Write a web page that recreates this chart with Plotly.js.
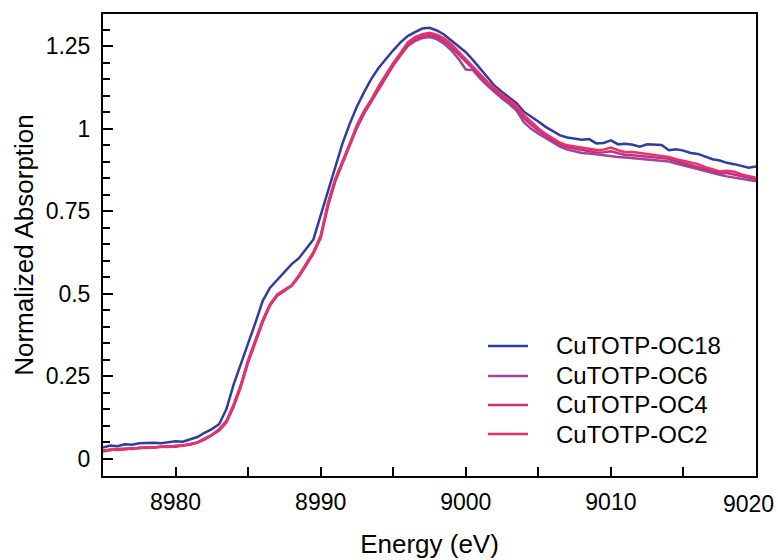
<!DOCTYPE html>
<html>
<head>
<meta charset="utf-8">
<script src="https://cdn.plot.ly/plotly-3.0.1.min.js"></script>
<style>html,body{margin:0;padding:0;background:#fff;}#chart{width:778px;height:560px;}</style>
</head>
<body>
<div id="chart"></div>
<script>
const energy = [
8975.0,8975.5,8976.0,8976.5,8977.0,8977.5,8978.0,8978.5,8979.0,8979.5,
8980.0,8980.5,8981.0,8981.5,8982.0,8982.5,8983.0,8983.5,8984.0,8984.5,
8985.0,8985.5,8986.0,8986.5,8987.0,8987.5,8988.0,8988.5,8989.0,8989.5,
8990.0,8990.5,8991.0,8991.5,8992.0,8992.5,8993.0,8993.5,8994.0,8994.5,
8995.0,8995.5,8996.0,8996.5,8997.0,8997.5,8998.0,8998.5,8999.0,8999.5,
9000.0,9000.5,9001.0,9001.5,9002.0,9002.5,9003.0,9003.5,9004.0,9004.5,
9005.0,9005.5,9006.0,9006.5,9007.0,9007.5,9008.0,9008.5,9009.0,9009.5,
9010.0,9010.5,9011.0,9011.5,9012.0,9012.5,9013.0,9013.5,9014.0,9014.5,
9015.0,9015.5,9016.0,9016.5,9017.0,9017.5,9018.0,9018.5,9019.0,9019.5,
9020.0];

const oc18 = [
0.034,0.040,0.038,0.044,0.043,0.047,0.048,0.049,0.047,0.050,
0.053,0.052,0.058,0.066,0.079,0.090,0.105,0.150,0.225,0.285,
0.350,0.412,0.478,0.518,0.542,0.566,0.590,0.608,0.637,0.665,
0.738,0.812,0.885,0.955,1.015,1.068,1.112,1.152,1.185,1.212,
1.238,1.262,1.281,1.293,1.304,1.306,1.298,1.286,1.268,1.250,
1.232,1.208,1.183,1.157,1.130,1.112,1.096,1.078,1.052,1.038,
1.022,1.006,0.993,0.980,0.974,0.970,0.967,0.969,0.956,0.957,
0.965,0.953,0.955,0.952,0.946,0.953,0.951,0.951,0.935,0.938,
0.934,0.927,0.924,0.917,0.908,0.904,0.897,0.893,0.888,0.882,
0.886];

const oc6 = [
0.022,0.027,0.029,0.031,0.030,0.034,0.033,0.035,0.036,0.038,
0.037,0.041,0.045,0.049,0.058,0.071,0.086,0.110,0.158,0.218,
0.292,0.352,0.414,0.464,0.494,0.509,0.524,0.552,0.585,0.622,
0.670,0.765,0.840,0.893,0.948,1.003,1.047,1.083,1.122,1.158,
1.192,1.222,1.250,1.266,1.275,1.278,1.272,1.258,1.238,1.212,
1.180,1.178,1.152,1.130,1.110,1.092,1.075,1.055,1.020,1.000,
0.985,0.972,0.958,0.946,0.937,0.932,0.927,0.925,0.922,0.920,
0.917,0.915,0.913,0.911,0.909,0.907,0.906,0.903,0.901,0.895,
0.889,0.885,0.879,0.872,0.866,0.861,0.856,0.852,0.849,0.846,
0.841];

const oc4 = [
0.024,0.026,0.030,0.029,0.032,0.032,0.035,0.034,0.037,0.036,
0.040,0.041,0.043,0.050,0.060,0.072,0.088,0.112,0.162,0.222,
0.296,0.355,0.417,0.466,0.496,0.511,0.525,0.554,0.588,0.625,
0.673,0.770,0.844,0.897,0.952,1.008,1.051,1.087,1.126,1.162,
1.196,1.226,1.256,1.272,1.281,1.284,1.279,1.266,1.248,1.226,
1.204,1.182,1.158,1.136,1.116,1.098,1.082,1.063,1.032,1.012,
0.994,0.979,0.966,0.952,0.944,0.940,0.935,0.932,0.928,0.929,
0.932,0.926,0.921,0.920,0.918,0.916,0.914,0.912,0.909,0.902,
0.896,0.891,0.886,0.878,0.872,0.866,0.866,0.862,0.857,0.852,
0.847];

const oc2 = [
0.025,0.028,0.027,0.030,0.031,0.033,0.034,0.036,0.035,0.037,
0.039,0.040,0.044,0.050,0.061,0.073,0.090,0.115,0.165,0.225,
0.300,0.358,0.420,0.468,0.498,0.512,0.526,0.556,0.590,0.627,
0.676,0.775,0.848,0.900,0.955,1.012,1.055,1.090,1.130,1.165,
1.200,1.230,1.262,1.278,1.287,1.291,1.285,1.274,1.257,1.234,
1.212,1.190,1.165,1.142,1.122,1.104,1.088,1.070,1.042,1.020,
1.001,0.985,0.972,0.958,0.950,0.946,0.942,0.940,0.936,0.937,
0.943,0.935,0.929,0.930,0.927,0.925,0.922,0.920,0.915,0.908,
0.902,0.898,0.893,0.884,0.878,0.871,0.873,0.870,0.862,0.856,
0.852];

const xTickVals = [8980, 8990, 9000, 9010, 9020];
const xTickText = ["8980", "8990", "9000", "9010", "9020"];

const seriesNames = ["CuTOTP-OC18","CuTOTP-OC6","CuTOTP-OC4","CuTOTP-OC2"];
const seriesValues = [oc18, oc6, oc4, oc2];
const seriesColors = ["#2f3d9c","#a0449c","#c4307c","#e8336a"];

const font = "Arial, 'Liberation Sans', sans-serif";

const traces = seriesNames.map((n, i) => ({
  x: energy, y: seriesValues[i], name: n, type: "scatter", mode: "lines",
  line: {color: seriesColors[i], width: 2.5}, showlegend: false
}));

// legend drawn as shapes + annotations (paper coordinates)
const legX0 = 0.5896, legX1 = 0.6508, legTextX = 0.690;
const legRowY = [0.2814, 0.2165, 0.1537, 0.0909];
const shapes = seriesNames.map((n, i) => ({
  type: "line", xref: "paper", yref: "paper",
  x0: legX0, x1: legX1, y0: legRowY[i], y1: legRowY[i],
  line: {color: seriesColors[i], width: 2.5}
}));
const annotations = seriesNames.map((n, i) => ({
  text: n, xref: "paper", yref: "paper", x: legTextX, y: legRowY[i],
  xanchor: "left", yanchor: "middle", showarrow: false,
  font: {family: font, size: 24, color: "#000"}
}));
// last x tick label sits at the plot edge; draw it shifted inward like the original
const lastIdx = xTickVals.length - 1;
annotations.push({
  text: xTickText[lastIdx], xref: "x", yref: "paper", x: xTickVals[lastIdx], y: 0,
  xanchor: "center", yanchor: "top", xshift: -8, yshift: -13, showarrow: false,
  font: {family: font, size: 23, color: "#000"}
});

const layout = {
  width: 778, height: 560,
  margin: {l: 103, r: 22, t: 14, b: 84},
  paper_bgcolor: "#fff", plot_bgcolor: "#fff",
  showlegend: false,
  shapes: shapes,
  annotations: annotations,
  xaxis: {
    range: [8975, 9020],
    tickmode: "array", tickvals: xTickVals.slice(0, lastIdx), ticktext: xTickText.slice(0, lastIdx),
    showgrid: false, zeroline: false,
    showline: true, linecolor: "#000", linewidth: 2, mirror: true,
    ticks: "inside", ticklen: 9, tickwidth: 2, tickcolor: "#000",
    minor: {dtick: 5, tick0: 8975, ticks: "inside", ticklen: 9, tickwidth: 2, tickcolor: "#000", showgrid: false},
    tickfont: {family: font, size: 23, color: "#000"},
    ticklabelstandoff: 4,
    title: {text: "Energy (eV)", font: {family: font, size: 26, color: "#000"}, standoff: 21}
  },
  yaxis: {
    range: [-0.052, 1.348], dtick: 0.25, tick0: 0,
    showgrid: false, zeroline: false,
    showline: true, linecolor: "#000", linewidth: 2, mirror: true,
    ticks: "inside", ticklen: 10, tickwidth: 2, tickcolor: "#000",
    minor: {dtick: 0.05, ticks: "inside", ticklen: 7, tickwidth: 2, tickcolor: "#000", showgrid: false},
    tickfont: {family: font, size: 23, color: "#000"},
    ticklabelstandoff: 6,
    title: {text: "Normalized Absorption", font: {family: font, size: 26, color: "#000"}, standoff: 5}
  }
};

Plotly.newPlot("chart", traces, layout, {staticPlot: true, displayModeBar: false});
</script>
</body>
</html>
